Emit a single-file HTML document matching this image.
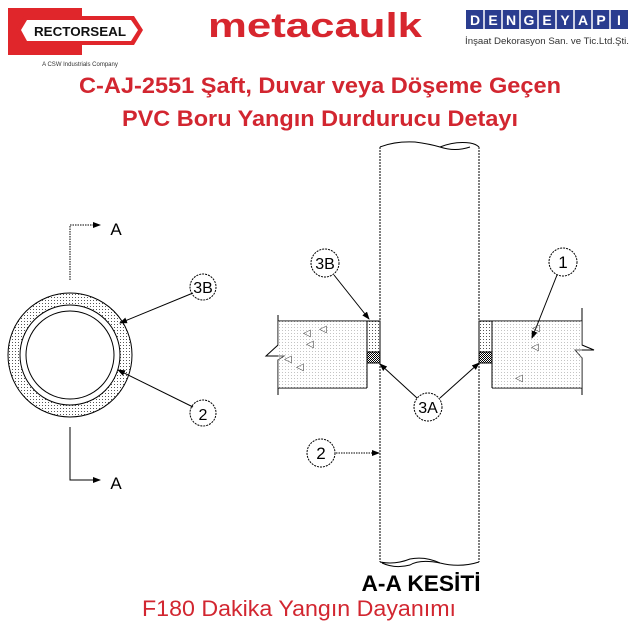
<!DOCTYPE html>
<html><head><meta charset="utf-8"><style>
body{margin:0;width:640px;height:632px;background:#fff;overflow:hidden;position:relative;font-family:"Liberation Sans",sans-serif}
</style></head><body>
<svg width="640" height="632" style="position:absolute;left:0;top:0" xmlns="http://www.w3.org/2000/svg">
<defs>
<pattern id="dots" width="3" height="3" patternUnits="userSpaceOnUse"><rect width="3" height="3" fill="#fff"/><rect width="1" height="1" fill="#555"/></pattern>
<pattern id="mesh" width="2" height="2" patternUnits="userSpaceOnUse"><rect width="2" height="2" fill="#fff"/><rect width="1" height="1" fill="#000"/><rect x="1" y="1" width="1" height="1" fill="#000"/></pattern>
<marker id="ar" markerWidth="8" markerHeight="6" refX="7" refY="3" orient="auto" markerUnits="userSpaceOnUse"><path d="M0,0 L8,3 L0,6z" fill="#000"/></marker>
</defs>
<!-- Rectorseal logo -->
<rect x="8" y="8" width="74" height="47" fill="#e0262b"/>
<polygon points="16,30 24,16 134,16 143,30 134,45 24,45" fill="#e0262b"/>
<polygon points="21,30 27,20 131,20 138,30 131,41 27,41" fill="#fff"/>
<text x="80" y="36" font-size="13" font-weight="bold" text-anchor="middle" fill="#111" textLength="92" lengthAdjust="spacingAndGlyphs">RECTORSEAL</text>
<text x="80" y="66" font-size="6" text-anchor="middle" fill="#333">A CSW Industrials Company</text>
<!-- metacaulk -->
<text x="315" y="37" font-size="34" font-weight="bold" text-anchor="middle" fill="#d7262e" textLength="214" lengthAdjust="spacingAndGlyphs">metacaulk</text>
<!-- Dengeyapi -->
<rect x="466" y="10" width="162" height="19" fill="#2a3d8f"/>
<g stroke="#fff" stroke-width="1.5">
<line x1="484" y1="10" x2="484" y2="29"/><line x1="502" y1="10" x2="502" y2="29"/><line x1="520" y1="10" x2="520" y2="29"/><line x1="538" y1="10" x2="538" y2="29"/><line x1="556" y1="10" x2="556" y2="29"/><line x1="574" y1="10" x2="574" y2="29"/><line x1="592" y1="10" x2="592" y2="29"/><line x1="610" y1="10" x2="610" y2="29"/>
</g>
<g font-size="14" font-weight="bold" fill="#fff" text-anchor="middle">
<text x="475" y="25">D</text><text x="493" y="25">E</text><text x="511" y="25">N</text><text x="529" y="25">G</text><text x="547" y="25">E</text><text x="565" y="25">Y</text><text x="583" y="25">A</text><text x="601" y="25">P</text><text x="619" y="25">I</text>
</g>
<text x="547" y="44" font-size="9" text-anchor="middle" fill="#333" textLength="164" lengthAdjust="spacingAndGlyphs">İnşaat Dekorasyon San. ve Tic.Ltd.Şti.</text>
<!-- Titles -->
<text x="320" y="93" font-size="22" font-weight="bold" text-anchor="middle" fill="#d22630" textLength="482" lengthAdjust="spacingAndGlyphs">C-AJ-2551 Şaft, Duvar veya Döşeme Geçen</text>
<text x="320" y="126" font-size="22" font-weight="bold" text-anchor="middle" fill="#d22630" textLength="396" lengthAdjust="spacingAndGlyphs">PVC Boru Yangın Durdurucu Detayı</text>

<!-- Left plan view -->
<g stroke="#000" fill="none" stroke-width="1">
<circle cx="70" cy="355" r="62" fill="url(#dots)"/>
<circle cx="70" cy="355" r="50" fill="#fff"/>
<circle cx="70" cy="355" r="44"/>
<path d="M70,280 V225 H100" stroke-dasharray="1.5,1" marker-end="url(#ar)"/>
<path d="M70,427 V480 H100" marker-end="url(#ar)"/>
<line x1="193" y1="293" x2="120" y2="323" marker-end="url(#ar)"/>
<line x1="193" y1="407" x2="118" y2="370" marker-end="url(#ar)"/>
<circle cx="203" cy="287" r="13" stroke-dasharray="2,1"/>
<circle cx="203" cy="413" r="13" stroke-dasharray="2,1"/>
</g>
<g font-size="17" fill="#000" text-anchor="middle">
<text x="116" y="235">A</text><text x="116" y="489">A</text>
<text x="203" y="293" font-size="16">3B</text><text x="203" y="420" font-size="16">2</text>
</g>

<!-- Section view -->
<g stroke="#000" fill="none" stroke-width="1">
<path d="M278,315 V321 H380 M278,388 H367 M278,321 V345 L266,356 H284 L278,360 V395" />
<rect x="278" y="321" width="89" height="67" fill="url(#dots)" stroke="none" opacity="0.35"/>
<path d="M367,321 V388 M278,388 V395"/>
<rect x="367" y="321" width="13" height="31" fill="url(#dots)"/>
<rect x="367" y="352" width="13" height="11" fill="url(#mesh)"/>
<path d="M479,321 H582 V308 M492,388 H582 V395 M582,321 V345 L594,350 H575 L582,358 V388"/>
<rect x="492" y="321" width="90" height="67" fill="url(#dots)" stroke="none" opacity="0.35"/>
<path d="M492,321 V388"/>
<rect x="479" y="321" width="13" height="31" fill="url(#dots)"/>
<rect x="479" y="352" width="13" height="11" fill="url(#mesh)"/>
<line x1="380" y1="147" x2="380" y2="562" stroke-dasharray="2,1"/>
<line x1="479" y1="147" x2="479" y2="562" stroke-dasharray="2,1"/>
<path d="M380,147 Q395,141 415,142 Q430,144 440,147 Q455,141 470,143 Q476,144 479,147"/>
<path d="M440,147 Q455,152 470,147"/>
<path d="M380,562 Q395,565 410,559 Q425,556 440,563 Q460,568 479,562"/>
<path d="M382,563 Q395,569 410,565 Q420,559 440,563"/>
<line x1="334" y1="275" x2="369" y2="319" marker-end="url(#ar)"/>
<line x1="557" y1="275" x2="532" y2="338" marker-end="url(#ar)"/>
<line x1="417" y1="398" x2="380" y2="364" marker-end="url(#ar)"/>
<line x1="440" y1="398" x2="479" y2="363" marker-end="url(#ar)"/>
<line x1="336" y1="453" x2="379" y2="453" stroke-dasharray="1.5,1" marker-end="url(#ar)"/>
<circle cx="325" cy="263" r="14" stroke-dasharray="2,1"/>
<circle cx="563" cy="262" r="14" stroke-dasharray="2,1"/>
<circle cx="428" cy="407" r="14" stroke-dasharray="2,1"/>
<circle cx="321" cy="453" r="14" stroke-dasharray="2,1"/>
</g>
<g font-size="10" fill="#444"><text x="303" y="336">◁</text><text x="306" y="347">◁</text><text x="284" y="362">◁</text><text x="296" y="370">◁</text><text x="319" y="332">◁</text><text x="531" y="350">◁</text><text x="515" y="381">◁</text><text x="532" y="331">◁</text></g>
<g font-size="17" fill="#000" text-anchor="middle">
<text x="325" y="269" font-size="16">3B</text><text x="563" y="268">1</text><text x="428" y="413" font-size="16">3A</text><text x="321" y="459">2</text>
</g>
<text x="421" y="591" font-size="22" font-weight="bold" text-anchor="middle" fill="#000" textLength="119" lengthAdjust="spacingAndGlyphs">A-A KESİTİ</text>
<text x="299" y="616" font-size="22" text-anchor="middle" fill="#d22630" textLength="314" lengthAdjust="spacingAndGlyphs">F180 Dakika Yangın Dayanımı</text>
</svg>
</body></html>
